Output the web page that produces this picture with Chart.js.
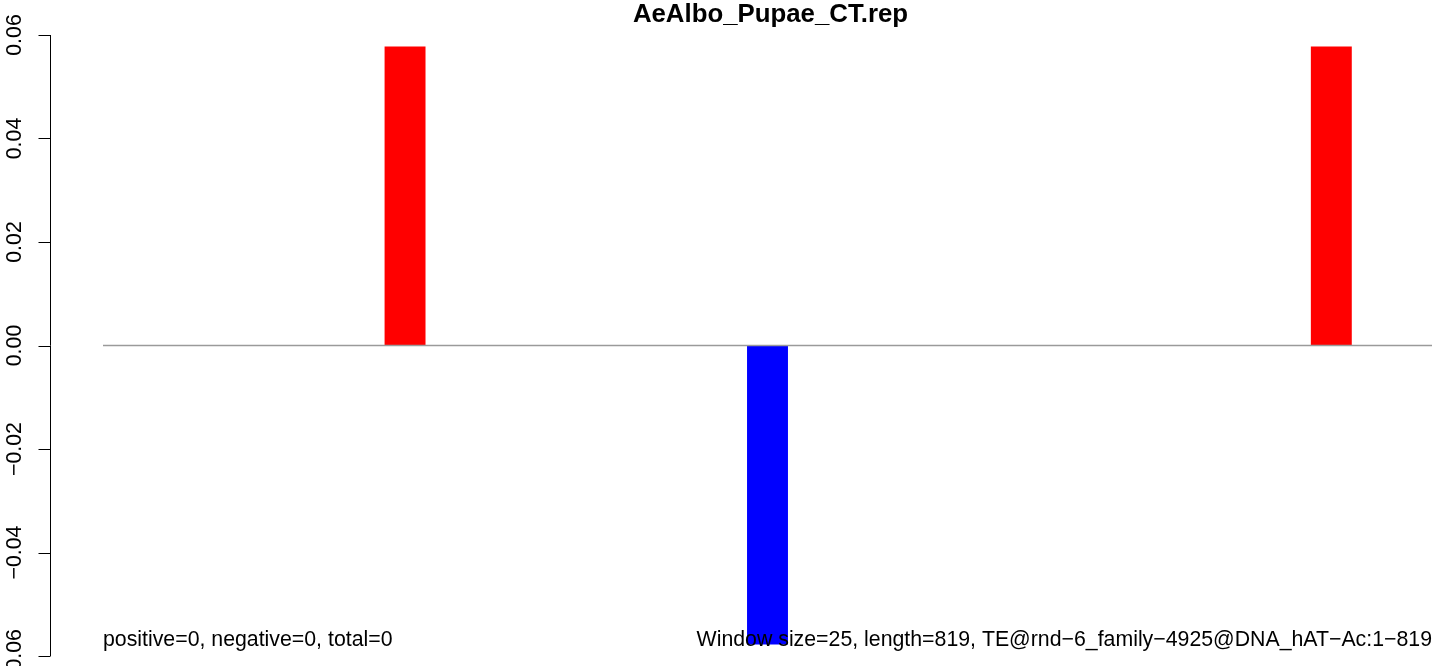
<!DOCTYPE html>
<html>
<head>
<meta charset="utf-8">
<script src="https://cdn.jsdelivr.net/npm/chart.js@4/dist/chart.umd.min.js"></script>
<style>
html,body{margin:0;padding:0;background:#fff;overflow:hidden;}
canvas{display:block;}
</style>
</head>
<body>
<canvas id="c" width="1444" height="666"></canvas>
<script>
// ---- data ----
const chartTitle = "AeAlbo_Pupae_CT.rep";
const windows = Array.from({length: 33}, (_, i) => String(i * 25 + 1)); // window starts, size 25, length 819
const values = [0,0,0,0,0,0,0,0.0577,0,0,0,0,0,0,0,0,-0.0577,0,0,0,0,0,0,0,0,0,0,0,0,0,0.0577,0,0];
const yTicks = [-0.06, -0.04, -0.02, 0, 0.02, 0.04, 0.06];
const yTickLabels = ["\u22120.06", "\u22120.04", "\u22120.02", "0.00", "0.02", "0.04", "0.06"];
const leftNote = "positive=0, negative=0, total=0";
const rightNote = "Window size=25, length=819, TE@rnd\u22126_family\u22124925@DNA_hAT\u2212Ac:1\u2212819";

const FONT = '"Liberation Sans", Arial, Helvetica, sans-serif';

const rPlot = {
  id: 'rPlot',
  afterDatasetsDraw(chart) {
    const ctx = chart.ctx, a = chart.chartArea, y = chart.scales.y;
    ctx.save();
    const y0 = y.getPixelForValue(0);
    ctx.strokeStyle = '#9a9a9a';
    ctx.lineWidth = 1.5;
    ctx.beginPath();
    ctx.moveTo(a.left, y0);
    ctx.lineTo(a.right, y0);
    ctx.stroke();
    ctx.restore();
  },
  afterDraw(chart) {
    const ctx = chart.ctx, a = chart.chartArea, y = chart.scales.y;
    ctx.save();
    const axX = 50.5;
    const top = y.getPixelForValue(yTicks[yTicks.length - 1]);
    const bot = y.getPixelForValue(yTicks[0]);
    ctx.strokeStyle = '#000';
    ctx.lineWidth = 1;
    ctx.beginPath();
    ctx.moveTo(axX, top);
    ctx.lineTo(axX, bot);
    yTicks.forEach(v => {
      const py = Math.round(y.getPixelForValue(v)) + 0.5;
      ctx.moveTo(axX, py);
      ctx.lineTo(axX - 12, py);
    });
    ctx.stroke();
    ctx.fillStyle = '#000';
    ctx.font = '21.3px ' + FONT;
    ctx.textAlign = 'center';
    ctx.textBaseline = 'alphabetic';
    yTicks.forEach((v, i) => {
      const py = y.getPixelForValue(v);
      ctx.save();
      ctx.translate(20.5, py);
      ctx.rotate(-Math.PI / 2);
      ctx.fillText(yTickLabels[i], 0, 0);
      ctx.restore();
    });
    ctx.font = 'bold 25.8px ' + FONT;
    ctx.textAlign = 'center';
    ctx.fillText(chartTitle, (a.left + a.right) / 2 + 3, 22);
    ctx.font = '21.3px ' + FONT;
    ctx.textAlign = 'left';
    ctx.fillText(leftNote, a.left, 646);
    ctx.textAlign = 'right';
    ctx.fillText(rightNote, a.right, 646);
    ctx.restore();
  }
};

new Chart(document.getElementById('c'), {
  type: 'bar',
  data: {
    labels: windows,
    datasets: [{
      data: values,
      backgroundColor: values.map(v => v >= 0 ? '#ff0000' : '#0000ff'),
      borderWidth: 0,
      barPercentage: 1,
      categoryPercentage: 1
    }]
  },
  options: {
    responsive: false,
    animation: false,
    devicePixelRatio: 1,
    layout: { padding: { left: 103, right: 12, top: 35, bottom: 10 } },
    plugins: { legend: { display: false }, tooltip: { enabled: false }, title: { display: false } },
    scales: {
      x: { display: false },
      y: { display: false, min: -0.06, max: 0.06 }
    }
  },
  plugins: [rPlot]
});
</script>
</body>
</html>
